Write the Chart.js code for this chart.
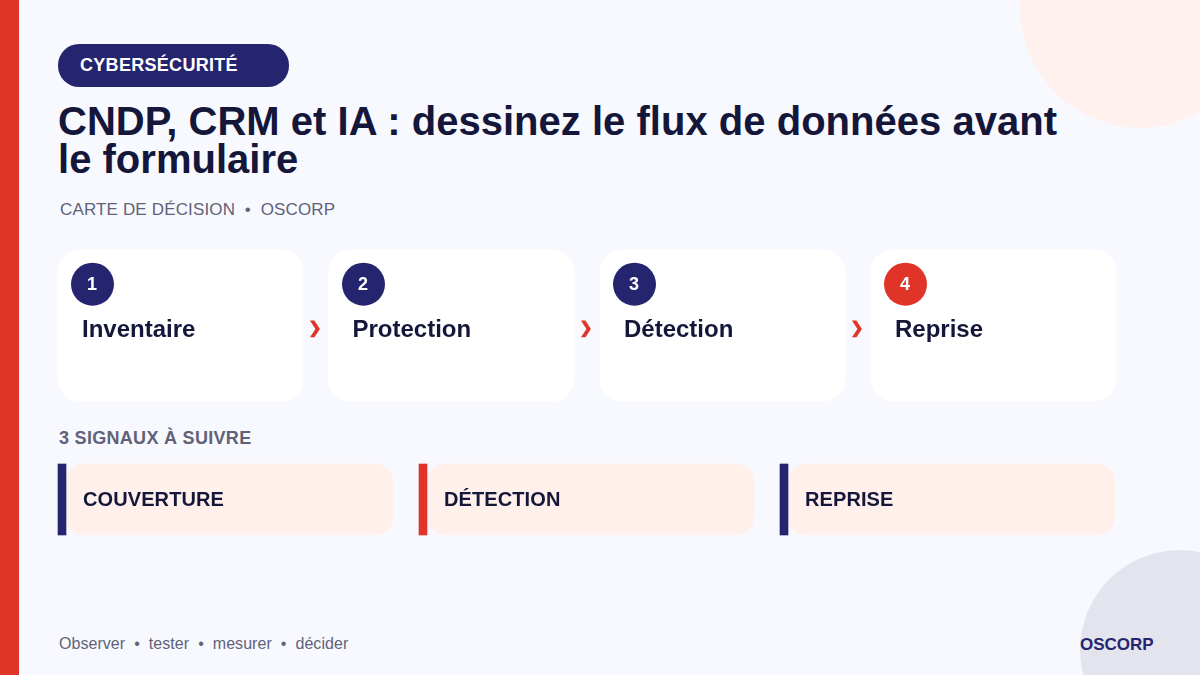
<!DOCTYPE html>
<html lang="fr">
<head>
<meta charset="utf-8">
<title>CNDP, CRM et IA</title>
<script src="https://cdn.jsdelivr.net/npm/chart.js@4"></script>
<style>
html, body { margin: 0; padding: 0; }
body { width: 1200px; height: 675px; position: relative; overflow: hidden; background: #f8f9ff; font-family: "Liberation Sans", sans-serif; }
.abs { position: absolute; white-space: nowrap; }
#bar { left: 0; top: 0; width: 19px; height: 675px; background: #e03428; }
#c1 { left: 1020px; top: -112px; width: 240px; height: 240px; border-radius: 50%; background: #fff1ee; }
#c2 { left: 1080px; top: 550px; width: 200px; height: 200px; border-radius: 50%; background: #e4e4ef; }
#pill { left: 58px; top: 44px; width: 231px; height: 43px; border-radius: 21px; background: #25256f; color: #fff; font-weight: 700; font-size: 18px; letter-spacing: 0.3px; line-height: 42px; text-indent: 22px; }
#title { left: 58px; top: 102px; width: 1040px; white-space: normal; color: #14163a; font-weight: 700; font-size: 40px; letter-spacing: 0.02px; line-height: 38px; }
#sub { left: 60px; top: 200px; color: #5f6278; font-size: 17px; letter-spacing: 0.15px; }
#sig { left: 59px; top: 428px; color: #5f6278; font-size: 18px; font-weight: 700; letter-spacing: 0.3px; }
#foot { left: 59px; top: 635px; color: #5f6278; font-size: 16px; letter-spacing: 0.05px; }
#brand { left: 1080px; top: 635px; color: #25256f; font-size: 17px; font-weight: 700; }
#chart { position: absolute; left: 0; top: 0; }
</style>
</head>
<body>
<div class="abs" id="c1"></div>
<div class="abs" id="c2"></div>
<div class="abs" id="bar"></div>
<div class="abs" id="pill">CYBERSÉCURITÉ</div>
<div class="abs" id="title">CNDP, CRM et IA : dessinez le flux de données avant le formulaire</div>
<div class="abs" id="sub">CARTE DE DÉCISION &nbsp;•&nbsp; OSCORP</div>
<div class="abs" id="sig">3 SIGNAUX À SUIVRE</div>
<div class="abs" id="foot">Observer &nbsp;•&nbsp; tester &nbsp;•&nbsp; mesurer &nbsp;•&nbsp; décider</div>
<div class="abs" id="brand">OSCORP</div>
<canvas id="chart" width="1200" height="675"></canvas>
<script>
// Étapes de la carte de décision
const stepLabels = ['Inventaire', 'Protection', 'Détection', 'Reprise'];
const stepNumbers = ['1', '2', '3', '4'];
const stepColors = ['#25256f', '#25256f', '#25256f', '#e03428'];
const stepLeft = [58, 328.5, 600, 871];
const stepRight = [303, 574, 845, 1116];
const badgeCenter = [92.5, 363.5, 634.5, 905.5];
// Signaux à suivre
const signalLabels = ['COUVERTURE', 'DÉTECTION', 'REPRISE'];
const signalColors = ['#25256f', '#e03428', '#25256f'];
const signalLeft = [58, 419, 780];
const signalRight = [393, 754, 1115];

const RED = '#e03428', INK = '#14163a';

// Textes posés sur les barres, calés sur les échelles
const cardText = {
    id: 'cardText',
    afterDatasetsDraw(chart) {
        const { ctx, scales: { x, y } } = chart;
        ctx.save();
        ctx.textBaseline = 'middle';
        ctx.textAlign = 'left';
        ctx.fillStyle = INK;
        ctx.font = '700 24px "Liberation Sans"';
        stepLabels.forEach((t, i) => ctx.fillText(t, x.getPixelForValue(stepLeft[i] + 24), y.getPixelForValue(330)));
        ctx.font = '700 20px "Liberation Sans"';
        ctx.letterSpacing = '0.1px';
        signalLabels.forEach((t, i) => ctx.fillText(t, x.getPixelForValue(signalLeft[i] + 25), y.getPixelForValue(500)));
        ctx.letterSpacing = '0px';
        ctx.textAlign = 'center';
        ctx.fillStyle = '#fff';
        ctx.font = '700 18px "Liberation Sans"';
        stepNumbers.forEach((t, i) => ctx.fillText(t, x.getPixelForValue(badgeCenter[i] - 0.5), y.getPixelForValue(285)));
        ctx.fillStyle = RED;
        ctx.strokeStyle = RED;
        ctx.lineWidth = 0.8;
        ctx.font = '700 16px "DejaVu Sans"';
        stepLeft.slice(0, 3).forEach((l, i) => {
            ctx.fillText('❯', x.getPixelForValue(stepRight[i] + 12), y.getPixelForValue(329));
            ctx.strokeText('❯', x.getPixelForValue(stepRight[i] + 12), y.getPixelForValue(329));
        });
        ctx.restore();
    }
};

new Chart(document.getElementById('chart'), {
    type: 'bar',
    data: {
        datasets: [
            {
                // cartes des étapes
                data: stepLeft.map((l, i) => ({ y: 325.5, x: [l, stepRight[i]] })),
                backgroundColor: '#ffffff', barThickness: 151, borderRadius: 22, borderSkipped: false,
                grouped: false, order: 5
            },
            {
                // cartes des signaux
                data: signalLeft.map((l, i) => ({ y: 499.5, x: [l + 8, signalRight[i]] })),
                backgroundColor: '#fff0ec', barThickness: 71, borderRadius: 18, borderSkipped: false,
                grouped: false, order: 4
            },
            {
                // liseré gauche des signaux
                data: signalLeft.map((l) => ({ y: 499.5, x: [l, l + 8] })),
                backgroundColor: signalColors, barThickness: 71,
                grouped: false, order: 3
            },
            {
                // pastilles numérotées
                type: 'scatter',
                data: badgeCenter.map((c) => ({ x: c, y: 284.2 })),
                backgroundColor: stepColors, pointRadius: 21.5, borderWidth: 0, order: 1
            }
        ]
    },
    options: {
        indexAxis: 'y',
        responsive: false,
        animation: false,
        layout: { padding: 0, autoPadding: false },
        plugins: { legend: { display: false }, tooltip: { enabled: false }, title: { display: false } },
        scales: {
            x: { type: 'linear', min: 0, max: 1200, offset: false, display: false },
            y: { type: 'linear', min: 0, max: 675, reverse: true, offset: false, display: false }
        }
    },
    plugins: [cardText]
});
</script>
</body>
</html>
